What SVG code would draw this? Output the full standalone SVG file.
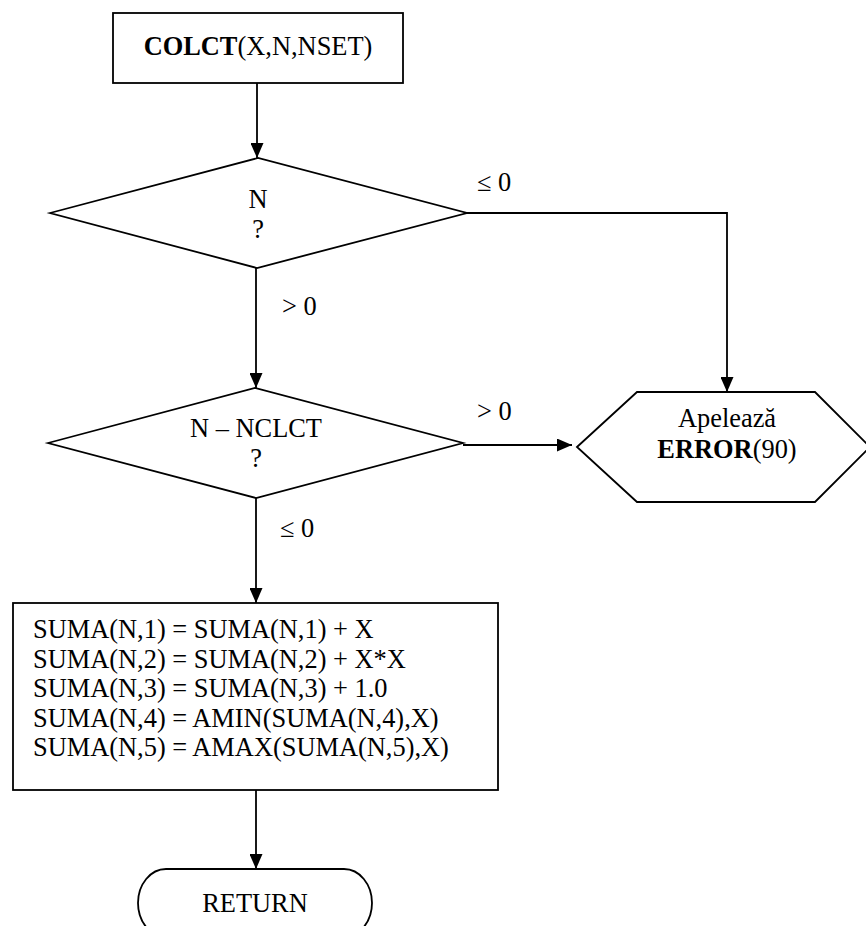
<svg xmlns="http://www.w3.org/2000/svg" width="866" height="926" viewBox="0 0 866 926">
  <style>
    .shape { fill: #ffffff; stroke: #000000; stroke-width: 1.8; }
    .edge { fill: none; stroke: #000000; stroke-width: 1.8; }
    text { font-family: "Liberation Serif", "Times New Roman", serif; font-size: 26.4px; fill: #000000; }
    .c { text-anchor: middle; }
    .b { font-weight: bold; }
  </style>
  <defs>
    <marker id="arrow" markerUnits="userSpaceOnUse" markerWidth="15" markerHeight="13" refX="15" refY="6.5" orient="auto">
      <path d="M0,0 L15,6.5 L0,13 z" fill="#000000"/>
    </marker>
  </defs>
  <rect width="866" height="926" fill="#ffffff"/>

  <!-- connectors -->
  <g id="connectors">
    <line class="edge" x1="257" y1="83" x2="257" y2="158" marker-end="url(#arrow)"/>
    <line class="edge" x1="256" y1="268" x2="256" y2="388" marker-end="url(#arrow)"/>
    <polyline class="edge" points="467,213 727,213 727,392" marker-end="url(#arrow)"/>
    <line class="edge" x1="463" y1="445" x2="572" y2="445" marker-end="url(#arrow)"/>
    <line class="edge" x1="256" y1="498" x2="256" y2="603" marker-end="url(#arrow)"/>
    <line class="edge" x1="256" y1="790" x2="256" y2="869" marker-end="url(#arrow)"/>
    <text x="477" y="191">≤ 0</text>
    <text x="282" y="315">&gt; 0</text>
    <text x="477" y="420">&gt; 0</text>
    <text x="280" y="537">≤ 0</text>
  </g>

  <!-- start block -->
  <g id="start">
    <rect class="shape" x="113" y="13" width="290" height="70"/>
    <text class="c" x="258" y="55"><tspan class="b">COLCT</tspan>(X,N,NSET)</text>
  </g>

  <!-- first test: sign of N -->
  <g id="test-n">
    <polygon class="shape" points="50,213 258,158 467,213 257,268"/>
    <text class="c" x="258" y="208">N</text>
    <text class="c" x="258" y="238">?</text>
  </g>

  <!-- second test: N against NCLCT -->
  <g id="test-nclct">
    <polygon class="shape" points="48,443 255,388 463,443 256,498"/>
    <text class="c" x="256" y="437">N – NCLCT</text>
    <text class="c" x="256" y="467">?</text>
  </g>

  <!-- error call -->
  <g id="error">
    <polygon class="shape" points="577,447 637,392 815,392 870,447 815,502 637,502"/>
    <text class="c" x="727" y="427">Apelează</text>
    <text class="c" x="727" y="458"><tspan class="b">ERROR</tspan>(90)</text>
  </g>

  <!-- accumulation block -->
  <g id="update">
    <rect class="shape" x="13" y="603" width="485" height="187"/>
    <text x="33" y="638">SUMA(N,1) = SUMA(N,1) + X</text>
    <text x="33" y="667.5">SUMA(N,2) = SUMA(N,2) + X*X</text>
    <text x="33" y="697">SUMA(N,3) = SUMA(N,3) + 1.0</text>
    <text x="33" y="726.5">SUMA(N,4) = AMIN(SUMA(N,4),X)</text>
    <text x="33" y="756">SUMA(N,5) = AMAX(SUMA(N,5),X)</text>
  </g>

  <!-- return terminal -->
  <g id="return">
    <rect class="shape" x="138" y="869" width="234" height="68" rx="28" ry="34"/>
    <text class="c" x="255" y="912">RETURN</text>
  </g>
</svg>
